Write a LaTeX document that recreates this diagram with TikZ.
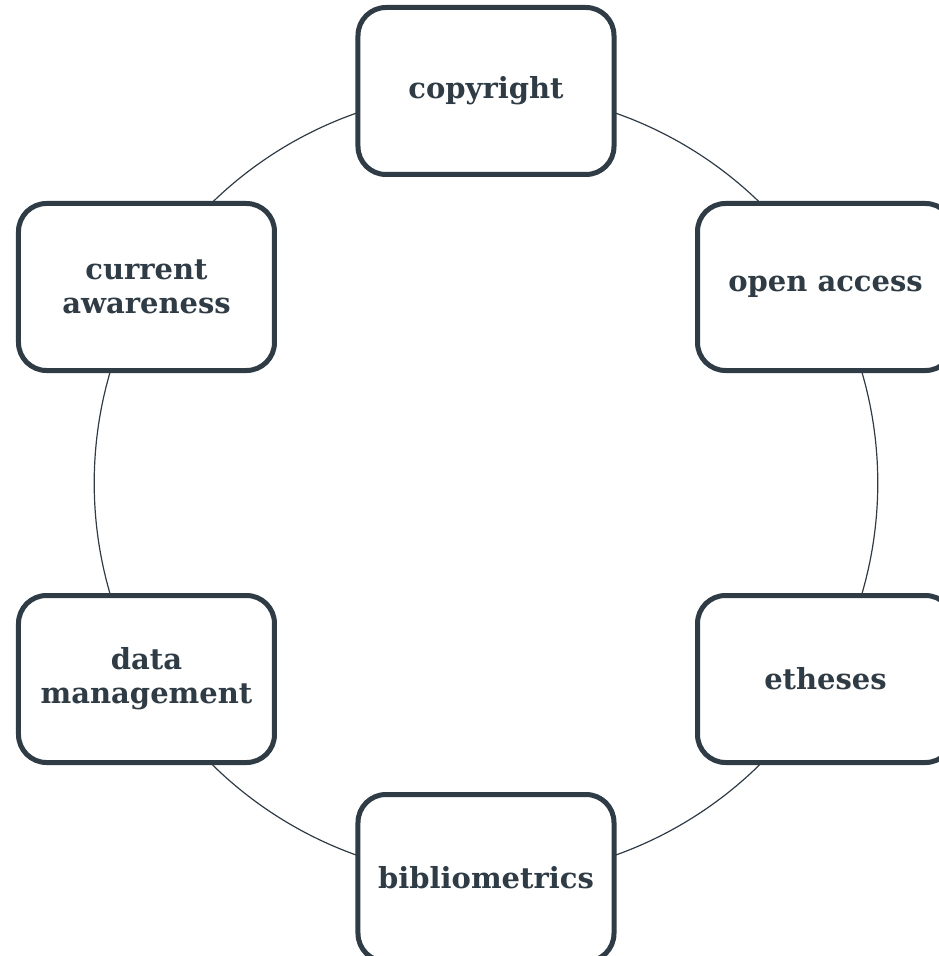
\documentclass[tikz,border=0pt]{standalone}
\usepackage{fontspec}
\setmainfont{DejaVu Serif}
\usetikzlibrary{backgrounds}
\definecolor{slate}{HTML}{2F3B45}
\tikzset{
  topic/.style={draw=slate, line width=5pt, rounded corners=28pt, fill=white,
    minimum width=256pt, minimum height=167pt, align=center,
    text=slate, font=\bfseries\fontsize{29pt}{34pt}\selectfont},
  ring/.style={draw=slate, line width=1.2pt, bend left=30, looseness=0.912}
}
\begin{document}
\begin{tikzpicture}[x=1pt,y=1pt]
\useasboundingbox (-486,-473) rectangle (452,483);
\node[topic] (cp) at (0,392) {copyright};
\node[topic] (oa) at (339.5,196) {open access};
\node[topic] (et) at (339.5,-196) {etheses};
\node[topic] (bi) at (0,-395) {bibliometrics};
\node[topic] (dm) at (-339.5,-196) {data\\management};
\node[topic] (ca) at (-339.5,196) {current\\awareness};
\begin{scope}[on background layer]
\draw[ring] (cp.center) to (oa.center);
\draw[ring] (oa.center) to (et.center);
\draw[ring] (et.center) to (bi.center);
\draw[ring] (bi.center) to (dm.center);
\draw[ring] (dm.center) to (ca.center);
\draw[ring] (ca.center) to (cp.center);
\end{scope}
\end{tikzpicture}
\end{document}
